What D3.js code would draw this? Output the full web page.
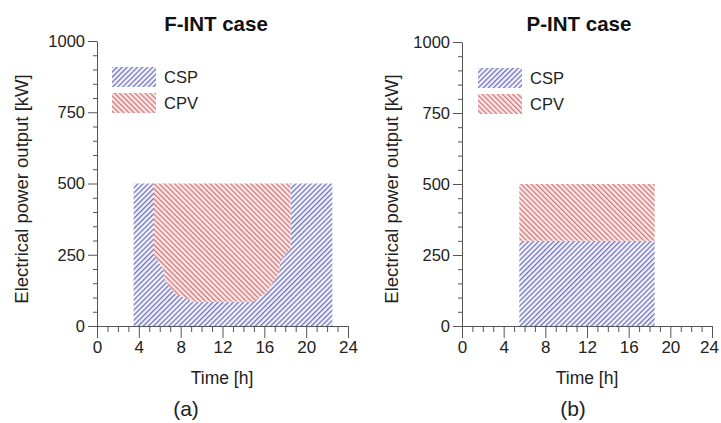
<!DOCTYPE html>
<html><head><meta charset="utf-8">
<script src="https://cdn.jsdelivr.net/npm/d3@7"></script>
<style>
html,body{margin:0;padding:0;background:#fff;}
svg{display:block;font-family:"Liberation Sans",Arial,Helvetica,sans-serif;}
</style></head>
<body>
<svg id="chart" width="721" height="423"></svg>
<script>
// ---------- data ----------
const xTicks = [0, 4, 8, 12, 16, 20, 24];
const yTicks = [0, 250, 500, 750, 1000];
const seriesNames = ["CSP", "CPV"];
const panelTitles = ["F-INT case", "P-INT case"];
const panelLetters = ["(a)", "(b)"];

// F-INT: total output and CSP share (CPV = total - CSP)
const fintTime  = [3.5, 5.45, 5.45, 6.4, 6.5, 7.4, 9.2, 14.9, 16.2, 17.4, 17.5, 18.5, 18.5, 22.5];
const fintTotal = [500, 500, 500, 500, 500, 500, 500, 500, 500, 500, 500, 500, 500, 500];
const fintCSP   = [500, 500, 250, 196, 160, 115, 85, 85, 116, 185, 230, 270, 500, 500];

// P-INT
const pintTime  = [5.5, 18.5];
const pintTotal = [500, 500];
const pintCSP   = [300, 300];

// ---------- drawing ----------
const svg = d3.select("#chart");
const defs = svg.append("defs");

function makePattern(id, angle, bg, stroke) {
  const p = defs.append("pattern").attr("id", id)
    .attr("patternUnits", "userSpaceOnUse")
    .attr("width", 3.6).attr("height", 3.6)
    .attr("patternTransform", `rotate(${angle})`);
  p.append("rect").attr("width", 3.6).attr("height", 3.6).attr("fill", bg);
  p.append("line").attr("x1", 0.7).attr("y1", 0).attr("x2", 0.7).attr("y2", 3.6)
    .attr("stroke", stroke).attr("stroke-width", 1.1);
}
makePattern("hatchCSP", 45, "#f4f4fb", "#5a5ab4");
makePattern("hatchCPV", -45, "#fde9e9", "#c86464");
const fills = ["url(#hatchCSP)", "url(#hatchCPV)"];

const panels = [
  {x0: 97,  x1: 348, y0: 326, y1: 41, time: fintTime, total: fintTotal, csp: fintCSP,
   titleX: 216, labX: 28, timeX: 222, letterX: 186, legX: 112, legY: 67},
  {x0: 462, x1: 712, y0: 326, y1: 42, time: pintTime, total: pintTotal, csp: pintCSP,
   titleX: 579, labX: 398, timeX: 587, letterX: 573, legX: 478, legY: 68}
];

panels.forEach((P, i) => {
  const g = svg.append("g");
  const x = d3.scaleLinear().domain([0, 24]).range([P.x0, P.x1]);
  const y = d3.scaleLinear().domain([0, 1000]).range([P.y0, P.y1]);
  const rows = P.time.map((t, k) => ({t, csp: P.csp[k], total: P.total[k]}));

  // CSP area (0 -> csp)
  g.append("path").datum(rows)
    .attr("d", d3.area().x(d => x(d.t)).y0(y(0)).y1(d => y(d.csp)))
    .attr("fill", fills[0]);
  // CPV area (csp -> total)
  g.append("path").datum(rows)
    .attr("d", d3.area().x(d => x(d.t)).y0(d => y(d.csp)).y1(d => y(d.total)))
    .attr("fill", fills[1]);

  // x axis
  const xAxis = g.append("g").attr("transform", `translate(0,${P.y0})`)
    .call(d3.axisBottom(x).tickValues(xTicks).tickSize(12).tickSizeOuter(0).tickPadding(3).tickFormat(d3.format("d")));
  g.append("g").attr("transform", `translate(0,${P.y0})`)
    .call(d3.axisBottom(x).tickValues(d3.range(0, 25, 1).filter(v => v % 4 !== 0)).tickSize(6).tickSizeOuter(0).tickFormat(""))
    .call(s => s.select(".domain").remove());
  // y axis
  const yAxis = g.append("g").attr("transform", `translate(${P.x0},0)`)
    .call(d3.axisLeft(y).tickValues(yTicks).tickSize(9).tickSizeOuter(0).tickPadding(3).tickFormat(d3.format("d")));
  g.append("g").attr("transform", `translate(${P.x0},0)`)
    .call(d3.axisLeft(y).tickValues(d3.range(0, 1001, 50).filter(v => v % 250 !== 0)).tickSize(4).tickSizeOuter(0).tickFormat(""))
    .call(s => s.select(".domain").remove());

  g.selectAll(".tick line, .domain").attr("stroke", "#555").attr("stroke-width", 1);
  xAxis.selectAll("text").attr("font-size", 17).attr("fill", "#222");
  if (i === 1) xAxis.selectAll("text").filter(d => d === 24).attr("dx", -3);
  yAxis.selectAll("text").attr("font-size", 16.5).attr("fill", "#222");

  // titles & labels
  g.append("text").attr("x", P.titleX).attr("y", 31).attr("text-anchor", "middle")
    .attr("font-size", 20.5).attr("font-weight", "bold").attr("fill", "#111").text(panelTitles[i]);
  g.append("text").attr("x", P.timeX).attr("y", 384).attr("text-anchor", "middle")
    .attr("font-size", 17.5).attr("fill", "#222").text("Time [h]");
  g.append("text").attr("transform", `translate(${P.labX},189) rotate(-90)`)
    .attr("text-anchor", "middle").attr("font-size", 18.5).attr("fill", "#222").text("Electrical power output [kW]");
  g.append("text").attr("x", P.letterX).attr("y", 416).attr("text-anchor", "middle")
    .attr("font-size", 21).attr("fill", "#222").text(panelLetters[i]);

  // legend
  seriesNames.forEach((name, k) => {
    g.append("rect").attr("x", P.legX).attr("y", P.legY + k * 26).attr("width", 44).attr("height", 20)
      .attr("fill", fills[k]);
    g.append("text").attr("x", P.legX + 52).attr("y", P.legY + k * 26 + 16)
      .attr("font-size", 16.5).attr("fill", "#222").text(name);
  });
});
</script>
</body></html>
